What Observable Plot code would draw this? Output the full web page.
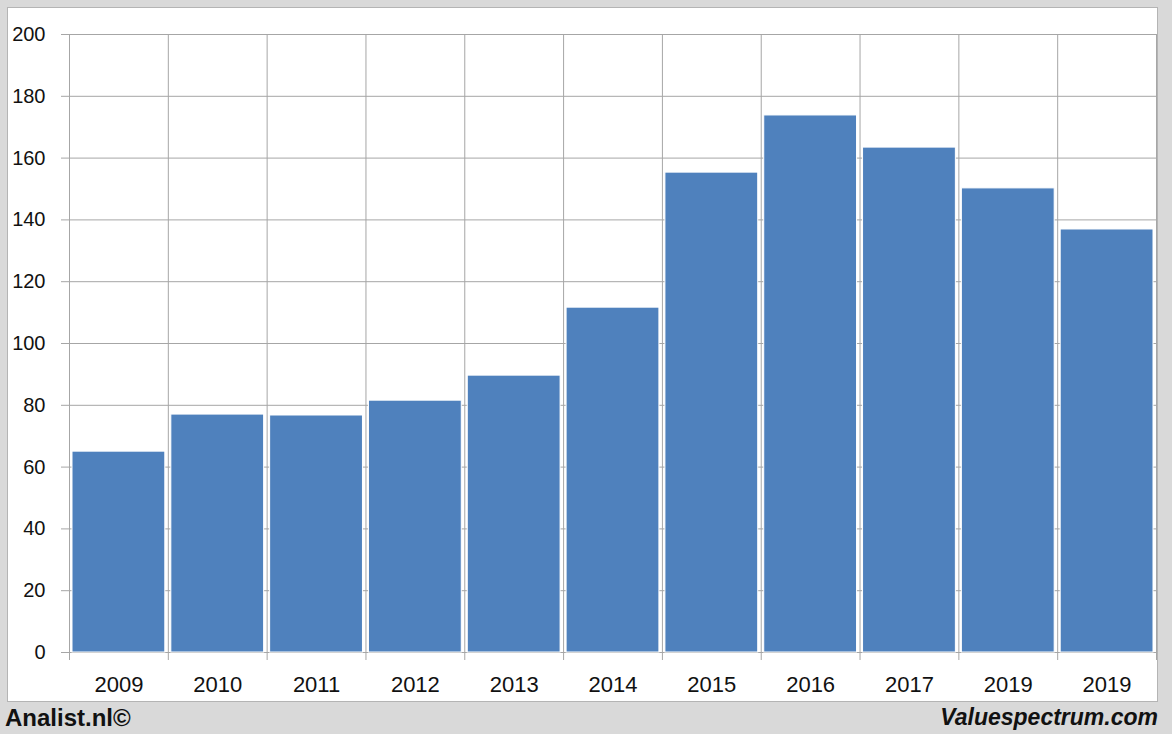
<!DOCTYPE html>
<html>
<head>
<meta charset="utf-8">
<script src="https://cdn.jsdelivr.net/npm/d3@7"></script>
<script src="https://cdn.jsdelivr.net/npm/@observablehq/plot@0.6"></script>
<style>
  html, body { margin: 0; padding: 0; background: #d9d9d9; width: 1172px; height: 734px; overflow: hidden; }
  #panel { position: absolute; left: 7px; top: 7px; width: 1151px; height: 695px; background: #fff; border: 1px solid #b4b4b4; box-sizing: border-box; }
  #chart { position: absolute; left: 0; top: 0; }
  .foot { position: absolute; top: 703px; font-family: "Liberation Sans", Arial, sans-serif; font-weight: bold; font-size: 23px; color: #111; line-height: 29px; }
  #left { left: 5px; font-size: 24px; }
  #right { right: 14px; font-style: italic; }
</style>
</head>
<body>
<div id="panel"></div>
<div id="chart"></div>
<div class="foot" id="left">Analist.nl©</div>
<div class="foot" id="right">Valuespectrum.com</div>
<script>
const labels = ["2009","2010","2011","2012","2013","2014","2015","2016","2017","2019","2019"];
const values = [65.0, 77.0, 76.7, 81.5, 89.6, 111.6, 155.3, 173.8, 163.4, 150.2, 136.9];
const yTicks = [0,20,40,60,80,100,120,140,160,180,200];

const data = labels.map((l, i) => ({i, label: l, value: values[i]}));
const bounds = d3.range(labels.length + 1);
const centers = labels.map((_, i) => i + 0.5);

const chart = Plot.plot({
  width: 1172,
  height: 710,
  marginLeft: 69,
  marginRight: 16,
  marginTop: 34,
  marginBottom: 58,
  style: { background: "transparent", fontFamily: "Liberation Sans, Arial, sans-serif", color: "#111" },
  x: { type: "linear", domain: [0, labels.length] },
  y: { domain: [0, 200] },
  marks: [
    Plot.gridY(yTicks, { stroke: "#a6a6a6", strokeOpacity: 1, strokeWidth: 1 }),
    Plot.gridX(bounds, { stroke: "#a6a6a6", strokeOpacity: 1, strokeWidth: 1 }),
    Plot.rectY(data, { x1: d => d.i, x2: d => d.i + 1, y: "value", fill: "#4f81bd", stroke: "#ffffff", strokeWidth: 1, insetLeft: 3, insetRight: 3 }),
    Plot.axisY(yTicks, { tickSize: 8, tickPadding: 16, stroke: "#a6a6a6", fontSize: 20, label: null, fill: "#111" }),
    Plot.axisX(bounds, { tickSize: 8, tickFormat: () => "", stroke: "#a6a6a6", label: null }),
    Plot.axisX(centers, { tickSize: 0, tickPadding: 24, tickFormat: d => labels[Math.floor(d)], fontSize: 22, label: null, fill: "#111" })
  ]
});
document.getElementById("chart").appendChild(chart);
</script>
</body>
</html>
